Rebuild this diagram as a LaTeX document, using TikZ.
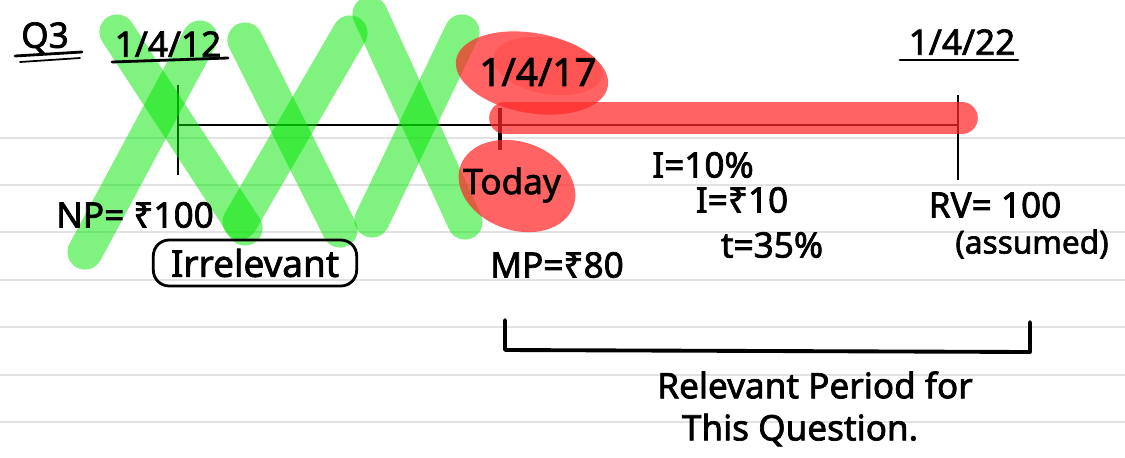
\documentclass[tikz,border=0pt]{standalone}
\usepackage{fontspec}
\setmainfont{Noto Sans}[BoldFont={Noto Sans}, BoldFeatures={FakeBold=2}]
\usetikzlibrary{calc}
\definecolor{rule}{RGB}{226,226,226}
\definecolor{hlgreen}{RGB}{0,230,0}
\definecolor{hlred}{RGB}{255,40,40}
\tikzset{
  hand/.style={font=\fontsize{20}{22}\selectfont\bfseries, text=black, inner sep=0pt},
  pen/.style={line width=1.6pt, black, line cap=round, line join=round},
  thin/.style={line width=0.7pt, black},
  ruled/.style={line width=0.9pt, rule},
  greenmark/.style={line width=20pt, hlgreen, opacity=0.5, line cap=round},
  redmark/.style={fill=hlred, opacity=0.72},
}
\begin{document}
\begin{tikzpicture}[x=0.02cm, y=-0.02cm]
\useasboundingbox (0,0) rectangle (1125,457);
\fill[white] (0,0) rectangle (1125,457);

% notebook ruling
\foreach \yy in {138,185,232,280,327,375,422}
  \draw[ruled] (0,\yy) -- (1125,\yy);

% timeline points
\coordinate (tA) at (178,125);
\coordinate (tB) at (500,125);
\coordinate (tC) at (958,125);
\coordinate (tAtop) at (178,85);
\coordinate (tAbot) at (178,175);
\coordinate (tBtop) at (500,108);
\coordinate (tBbot) at (500,150);
\coordinate (tCtop) at (958,95);
\coordinate (tCbot) at (958,180);

\draw[thin] (tA) -- (tC);
\draw[thin] (tAtop) -- (tAbot);
\draw[thin] (tCtop) -- (tCbot);
\draw[line width=2.3pt, black] (tBtop) -- (tBbot);

% green strike-through of the earlier period
\coordinate (g1a) at (117,32);  \coordinate (g1b) at (245,228);
\coordinate (g2a) at (85,252);  \coordinate (g2b) at (200,38);
\coordinate (g3a) at (245,40);  \coordinate (g3b) at (340,230);
\coordinate (g4a) at (240,222); \coordinate (g4b) at (350,33);
\coordinate (g5a) at (370,14);  \coordinate (g5b) at (465,222);
\coordinate (g6a) at (372,220); \coordinate (g6b) at (462,32);
\draw[greenmark] (g1a) -- (g1b);
\draw[greenmark] (g2a) -- (g2b);
\draw[greenmark] (g3a) -- (g3b);
\draw[greenmark] (g4a) -- (g4b);
\draw[greenmark] (g5a) -- (g5b);
\draw[greenmark] (g6a) -- (g6b);

% red highlights on the relevant span
\coordinate (rbarL) at (505,118);
\coordinate (rbarR) at (962,118);
\draw[line width=18pt, hlred, opacity=0.72, line cap=round] (rbarL) -- (rbarR);
\fill[redmark] (532,73) ellipse [x radius=77, y radius=40, rotate=-10];
\fill[hlred, opacity=0.25] (548,66) ellipse [x radius=55, y radius=28, rotate=-10];
\fill[redmark] (517,186) ellipse [x radius=60, y radius=44, rotate=-20];

% question number
\node[hand] (qno) at (45,38) {Q3};
\draw[pen] (15,56) -- (82,52);
\draw[pen, line width=1pt] (20,62) -- (80,58);

% dates
\node[hand] (d12) at (168,44) {1/4/12};
\draw[pen] (112,62) -- (228,58);
\node[hand, font=\fontsize{22}{24}\selectfont\bfseries] (d17) at (538,72) {1/4/17};
\node[hand] (d22) at (962,42) {1/4/22};
\draw[pen] (900,60) -- (1018,60);

% labels under the timeline
\node[hand] (today) at (512,185) {Today};
\node[hand] (np) at (135,215) {NP= ₹100};
\node[hand, font=\fontsize{21}{23}\selectfont\bfseries, draw, line width=1.6pt, rounded corners=9pt, inner xsep=10pt, inner ysep=5pt] (irr) at (255,263) {Irrelevant};
\node[hand] (mp) at (557,265) {MP=₹80};
\node[hand] (ir) at (703,165) {I=10\%};
\node[hand] (ia) at (742,200) {I=₹10};
\node[hand] (tx) at (772,245) {t=35\%};
\node[hand] (rv) at (995,205) {RV= 100};
\node[hand, font=\fontsize{18}{20}\selectfont\bfseries] (asm) at (1032,244) {(assumed)};

% bracket marking the relevant period
\coordinate (brL) at (505,320);
\coordinate (brR) at (1030,322);
\draw[pen, line width=2.2pt] (brL) -- (505,350) -- (1030,352) -- (brR);
\node[hand] (rel1) at (815,385) {Relevant Period for};
\node[hand] (rel2) at (800,430) {This Question.};
\end{tikzpicture}
\end{document}
